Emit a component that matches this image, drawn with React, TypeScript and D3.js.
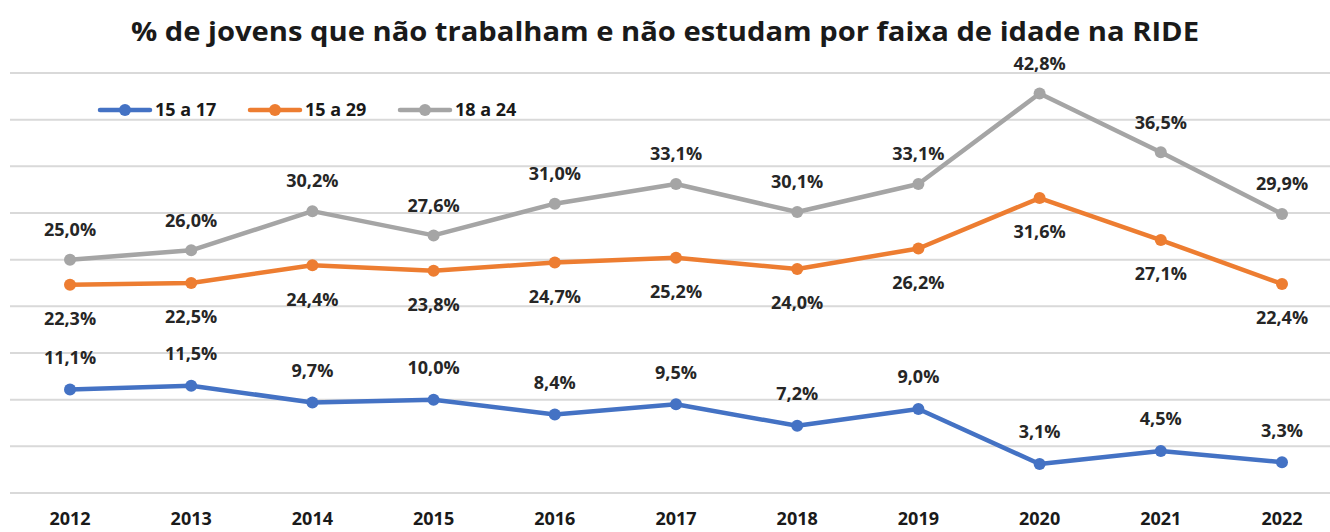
import { useEffect, useRef } from 'react'
import * as d3 from 'd3'

const years = ['2012', '2013', '2014', '2015', '2016', '2017', '2018', '2019', '2020', '2021', '2022']
const age15to17 = [11.1, 11.5, 9.7, 10.0, 8.4, 9.5, 7.2, 9.0, 3.1, 4.5, 3.3]
const age15to29 = [22.3, 22.5, 24.4, 23.8, 24.7, 25.2, 24.0, 26.2, 31.6, 27.1, 22.4]
const age18to24 = [25.0, 26.0, 30.2, 27.6, 31.0, 33.1, 30.1, 33.1, 42.8, 36.5, 29.9]
const yTicks = [0, 5, 10, 15, 20, 25, 30, 35, 40, 45]

const title = '% de jovens que não trabalham e não estudam por faixa de idade na RIDE'
const font = '"Open Sans", Lato, sans-serif'

const series = [
  { name: '15 a 17', values: age15to17, color: '#4472C4', labelOffset: -32 },
  { name: '15 a 29', values: age15to29, color: '#ED7D31', labelOffset: 34 },
  { name: '18 a 24', values: age18to24, color: '#A5A5A5', labelOffset: -30 }
]

export default function App() {
  const svgRef = useRef(null)
  const width = 1330
  const height = 532

  useEffect(() => {
    svgRef.current.innerHTML = ''
    const svg = d3.select(svgRef.current)

    const x = d3.scalePoint()
      .domain(years)
      .range([70, 1282])

    const y = d3.scaleLinear()
      .domain([0, 45])
      .range([493, 73])

    // gridlines
    svg.append('g')
      .selectAll('line')
      .data(yTicks)
      .enter().append('line')
        .attr('x1', 10)
        .attr('x2', width)
        .attr('y1', d => y(d))
        .attr('y2', d => y(d))
        .attr('stroke', '#D9D9D9')
        .attr('stroke-width', 2)

    // title
    svg.append('text')
      .attr('x', 665)
      .attr('y', 41)
      .attr('text-anchor', 'middle')
      .attr('textLength', 1068)
      .attr('lengthAdjust', 'spacingAndGlyphs')
      .style('font', `bold 27px ${font}`)
      .attr('fill', '#1a1a1a')
      .text(title)

    // x axis labels
    svg.append('g')
      .selectAll('text')
      .data(years)
      .enter().append('text')
        .attr('x', d => x(d))
        .attr('y', 525)
        .attr('text-anchor', 'middle')
        .style('font', `bold 18px ${font}`)
        .attr('fill', '#1a1a1a')
        .text(d => d)

    const line = d3.line()
      .x((d, i) => x(years[i]))
      .y(d => y(d))

    const fmt = v => v.toFixed(1).replace('.', ',') + '%'

    // draw gray, orange, blue (blue on top)
    ;[series[2], series[1], series[0]].forEach(s => {
      const g = svg.append('g')
      g.append('path')
        .datum(s.values)
        .attr('d', line)
        .attr('fill', 'none')
        .attr('stroke', s.color)
        .attr('stroke-width', 4.5)
        .attr('stroke-linejoin', 'round')
        .attr('stroke-linecap', 'round')
      g.selectAll('circle')
        .data(s.values)
        .enter().append('circle')
          .attr('cx', (d, i) => x(years[i]))
          .attr('cy', d => y(d))
          .attr('r', 6)
          .attr('fill', s.color)
      g.selectAll('text')
        .data(s.values)
        .enter().append('text')
          .attr('x', (d, i) => x(years[i]))
          .attr('y', d => y(d) + s.labelOffset)
          .attr('dy', '0.35em')
          .attr('text-anchor', 'middle')
          .style('font', `bold 18px ${font}`)
          .attr('fill', '#262626')
          .text(d => fmt(d))
    })

    // legend
    const legendX = [100, 250, 400]
    series.forEach((s, i) => {
      const lg = svg.append('g')
        .attr('transform', `translate(${legendX[i]}, 110)`)
      lg.append('line')
        .attr('x1', 0)
        .attr('x2', 50)
        .attr('stroke', s.color)
        .attr('stroke-width', 4.5)
        .attr('stroke-linecap', 'round')
      lg.append('circle')
        .attr('cx', 25)
        .attr('r', 6)
        .attr('fill', s.color)
      lg.append('text')
        .attr('x', 55)
        .attr('dy', '0.35em')
        .style('font', `bold 18px ${font}`)
        .attr('fill', '#1a1a1a')
        .text(s.name)
    })
  }, [])

  return (
    <svg
      ref={ svgRef }
      width={ width }
      height={ height }
      viewBox={ `0 0 ${width} ${height}` }
      style={ { position: 'absolute', left: 0, top: 0, background: '#fff' } }
    />
  )
}
